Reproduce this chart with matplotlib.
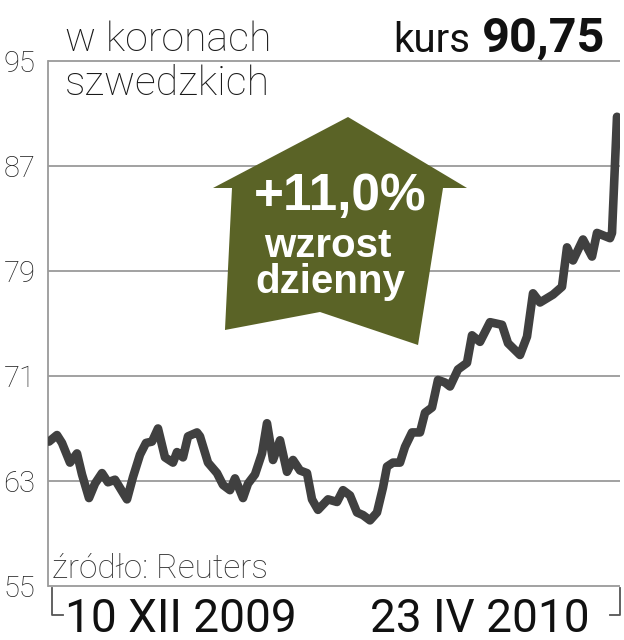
import matplotlib
matplotlib.use('Agg')
import matplotlib.pyplot as plt
from matplotlib.patches import Polygon

# price of the share in swedish crowns
# t = position along the time axis (10 XII 2009 -> 23 IV 2010)
t = [0, 8, 13, 21, 28, 33, 40, 46, 53, 59, 66, 78, 84, 91, 97, 103, 109, 116, 124, 128,
     134, 139, 148, 151, 159, 168, 174, 181, 186, 194, 199, 206, 213, 218, 224, 231, 238, 244,
     251, 258, 263, 269, 279, 288, 294, 301, 308, 314, 321, 328, 334, 338, 344, 351, 356, 363,
     371, 376, 383, 389, 396, 401, 409, 418, 423, 431, 441, 453, 459, 471, 478, 484, 491, 504,
     513, 518, 524, 534, 543, 548, 561, 563, 568]
price = [66.0, 66.5, 65.9, 64.4, 65.1, 63.5, 61.7, 62.8, 63.6, 62.9, 63.1, 61.6, 63.3, 65.0,
         65.9, 66.0, 67.0, 64.8, 64.4, 65.2, 64.8, 66.4, 66.7, 66.4, 64.4, 63.6, 62.7, 62.3,
         63.2, 61.7, 62.8, 63.5, 65.1, 67.4, 64.6, 66.1, 63.7, 64.6, 63.8, 63.6, 61.6, 60.8,
         61.6, 61.4, 62.3, 61.9, 60.6, 60.4, 60.0, 60.6, 62.5, 64.1, 64.4, 64.4, 65.6, 66.7,
         66.7, 68.2, 68.6, 70.7, 70.5, 70.2, 71.5, 72.0, 74.1, 73.6, 75.1, 74.9, 73.5, 72.6,
         74.0, 77.3, 76.6, 77.2, 77.8, 80.8, 79.8, 81.4, 80.1, 81.9, 81.5, 81.9, 90.75]

yticks = [55, 63, 71, 79, 87, 95]
date_labels = ['10 XII 2009', '23 IV 2010']
last_price = '90,75'
change_txt = ['+11,0%', 'wzrost', 'dzienny']

NARROW = ['Roboto', 'DejaVu Sans']      # no condensed face installed, roboto is the closest
BOLD = ['Liberation Sans', 'DejaVu Sans']
GRID = '#9a9a9a'
LINE = '#404040'
OLIVE = '#5a6326'

fig = plt.figure(figsize=(6.24, 6.40), dpi=100)
ax = fig.add_axes([0.0769, 0.0844, 0.9167, 0.8203])

# gridlines (drawn unclipped so the top / bottom ones are full width)
ax.hlines(yticks, -1, 571, colors=GRID, linewidth=1.3, clip_on=False, zorder=1)

ax.plot(t, price, color=LINE, linewidth=6.2, solid_capstyle='round',
        solid_joinstyle='round', zorder=3)

ax.set_xlim(-1, 571)
ax.set_ylim(55, 95)
ax.set_xticks([])
ax.set_yticks(yticks)
ax.set_yticklabels([str(v) for v in yticks], family=NARROW, fontweight='light',
                   fontsize=21, color='#222222')
ax.tick_params(axis='y', length=0, pad=9)
for s in ['top', 'right', 'bottom']:
    ax.spines[s].set_visible(False)
ax.spines['left'].set_color(GRID)
ax.spines['left'].set_linewidth(1.3)

# brackets under the time axis
ax.plot([0.007, 0.007, 0.026], [-0.004, -0.055, -0.055], transform=ax.transAxes,
        color='#555555', linewidth=1.3, clip_on=False)
ax.plot([0.9825, 1.0, 1.0], [-0.055, -0.055, -0.004], transform=ax.transAxes,
        color='#555555', linewidth=1.3, clip_on=False)

ax.text(0.0297, -0.0876, date_labels[0], transform=ax.transAxes, ha='left', va='baseline',
        family=NARROW, fontsize=33, color='#111111')
ax.text(0.9476, -0.0876, date_labels[1], transform=ax.transAxes, ha='right', va='baseline',
        family=NARROW, fontsize=33, color='#111111')

ax.text(0.007, 0.015, 'źródło: Reuters', transform=ax.transAxes, ha='left', va='baseline',
        family=NARROW, fontweight='light', fontsize=24, color='#333333')

# header
ax.text(0.0297, 1.019, 'w koronach', transform=ax.transAxes, ha='left', va='baseline',
        family=NARROW, fontweight='light', fontsize=29.5, color='#1a1a1a')
ax.text(0.0297, 0.9352, 'szwedzkich', transform=ax.transAxes, ha='left', va='baseline',
        family=NARROW, fontweight='light', fontsize=29.5, color='#1a1a1a')
ax.text(0.9738, 1.0171, last_price, transform=ax.transAxes, ha='right', va='baseline',
        family=NARROW, fontsize=35, fontweight='bold', color='#111111')
ax.text(0.7378, 1.0171, 'kurs', transform=ax.transAxes, ha='right', va='baseline',
        family=NARROW, fontsize=29, color='#111111')

# the olive "up" arrow
arrow = Polygon([(0.5245, 0.8933), (0.7325, 0.7581), (0.6906, 0.7581), (0.6469, 0.4590),
                 (0.4755, 0.5219), (0.3094, 0.4876), (0.3217, 0.7581), (0.2885, 0.7581)],
                closed=True, transform=ax.transAxes, facecolor=OLIVE, edgecolor='none', zorder=4)
ax.add_patch(arrow)
ax.text(0.5105, 0.716, change_txt[0], transform=ax.transAxes, ha='center', va='baseline',
        family=BOLD, fontsize=37, fontweight='bold', color='white', zorder=5)
ax.text(0.4895, 0.6267, change_txt[1], transform=ax.transAxes, ha='center', va='baseline',
        family=BOLD, fontsize=29, fontweight='bold', color='white', zorder=5)
ax.text(0.493, 0.558, change_txt[2], transform=ax.transAxes, ha='center', va='baseline',
        family=BOLD, fontsize=29, fontweight='bold', color='white', zorder=5)

fig.savefig('out.png', dpi=100, facecolor='white')
